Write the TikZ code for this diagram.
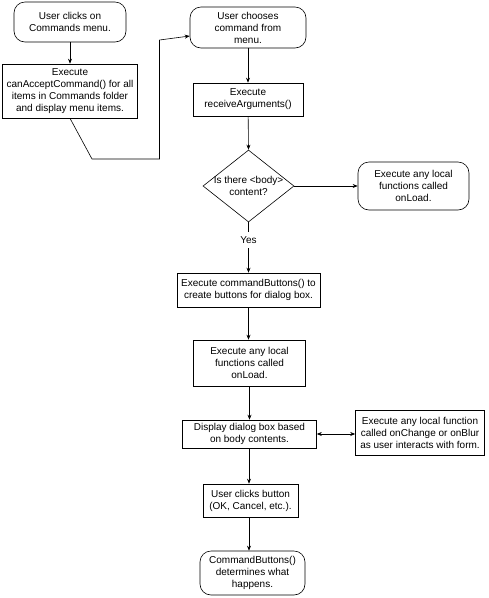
\documentclass[tikz,border=0pt]{standalone}
\usepackage{fontspec}
\setmainfont{Liberation Sans}
\usetikzlibrary{shapes.geometric,arrows.meta}
\begin{document}
\begin{tikzpicture}[x=1pt,y=-1pt,
  every node/.style={font=\fontsize{10}{12}\selectfont, align=center, inner sep=0pt},
  box/.style={draw, line width=0.6pt, rectangle, minimum width=#1},
  rbox/.style={draw, line width=0.6pt, rectangle, rounded corners=11pt, minimum width=#1},
  arr/.style={line width=0.6pt, -{Stealth[length=5pt,width=4pt]}},
  ln/.style={line width=0.6pt}]
\useasboundingbox (0,0) rectangle (489,598);
\node[rbox=112, minimum height=40] (b1) at (70,22) {User clicks on\\Commands menu.};
\node[box=135, minimum height=54] (b2) at (70,91) {Execute\\canAcceptCommand() for all\\items in Commands folder\\and display menu items.};
\node[rbox=116, minimum height=41] (b3) at (248,27.5) {User chooses\\command from\\menu.};
\node[box=110, minimum height=33] (b4) at (248,99.5) {Execute\\receiveArguments()};
\node[draw, line width=0.6pt, diamond, minimum width=91, minimum height=72] (d) at (248.5,186) {};
\node (dt) at (d) {Is there <body>\\content?};
\node[rbox=111, minimum height=48] (b5) at (413.5,186) {Execute any local\\functions called\\onLoad.};
\node[box=143, minimum height=34] (b6) at (248.5,290) {Execute commandButtons() to\\create buttons for dialog box.};
\node[box=112, minimum height=46] (b7) at (249.5,363) {Execute any local\\functions called\\onLoad.};
\node[box=134, minimum height=28] (b8) at (249.5,434) {Display dialog box based\\on body contents.};
\node[box=129, minimum height=45] (b9) at (420,432.5) {Execute any local function\\called onChange or onBlur\\as user interacts with form.};
\node[box=95, minimum height=33] (b10) at (250.5,500.5) {User clicks button\\(OK, Cancel, etc.).};
\node[rbox=105, minimum height=44] (b11) at (252.5,573) {CommandButtons()\\determines what\\happens.};
\coordinate (c1) at (92,159);
\coordinate (c2) at (159.5,159);
\coordinate (c3) at (159.5,40);
\draw[arr] (b1) -- (b2);
\draw[ln] (b2.south) -- (c1) -- (c2) -- (c3);
\draw[arr] (c3) -- (b3.west |- 0,36);
\draw[arr] (b3) -- (b4);
\draw[arr] (b4) -- (d.north);
\draw[arr] (d.east) -- (b5.west |- d.east);
\draw[ln] (d.south) -- (248.5,232);
\node (yes) at (248.5,240) {Yes};
\draw[arr] (yes.south |- 0,248) -- (b6.north);
\draw[arr] (b6.south) -- (b6.south |- b7.north);
\draw[arr] (b7.south) -- (b7.south |- b8.north);
\draw[arr] (b8.south -| 249,0) -- (b10.north -| 249,0);
\draw[arr] (b10.south -| 249,0) -- (b11.north -| 249,0);
\draw[ln, {Stealth[length=5pt,width=4pt]}-{Stealth[length=5pt,width=4pt]}] (b8.east) -- (b9.west |- b8.east);
\end{tikzpicture}
\end{document}
